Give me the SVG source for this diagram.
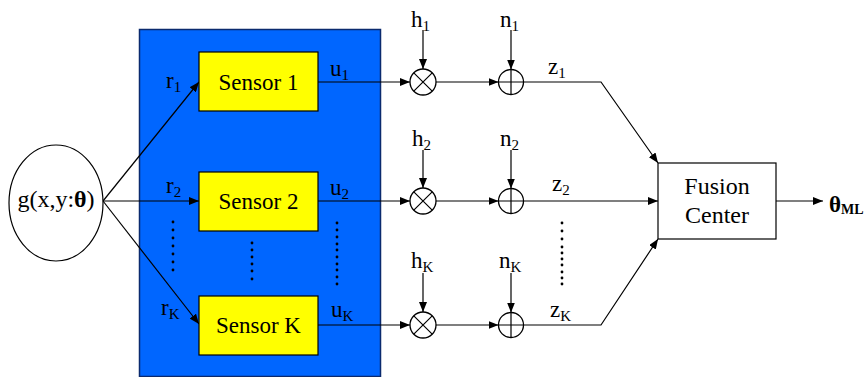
<svg xmlns="http://www.w3.org/2000/svg" width="867" height="377" viewBox="0 0 867 377" font-family="'Liberation Serif', 'Times New Roman', 'DejaVu Serif', serif">
<defs>
<marker id="ah" viewBox="0 0 10 8" refX="10" refY="4" markerWidth="10" markerHeight="8" markerUnits="userSpaceOnUse" orient="auto">
<path d="M0,0 L10,4 L0,8 Z" fill="#000"/>
</marker>
</defs>
<style>
text{font-family:'Liberation Serif','Times New Roman','DejaVu Serif',serif;fill:#000}
.lbl{font-size:23px}
.big{font-size:24px}
.sub{font-size:15px}
.ln{stroke:#000;stroke-width:1.2;fill:none}
.ar{stroke:#000;stroke-width:1.2;fill:none;marker-end:url(#ah)}
.sensor{fill:#ffff00;stroke:#000;stroke-width:1.2}
.op{fill:#fff;stroke:#000;stroke-width:1.3}
.dot{fill:#000}
</style>
<rect x="0" y="0" width="867" height="377" fill="#fff"/>
<g id="panel">
<rect x="139.5" y="29.5" width="241" height="347" fill="#0066ff" stroke="#0a2a6e" stroke-width="1.5"/>
</g>
<g id="connectors">
<line class="ar" x1="103" y1="201" x2="199" y2="82"/>
<line class="ar" x1="103" y1="201" x2="199" y2="201"/>
<line class="ar" x1="103" y1="201" x2="199" y2="324"/>
<line class="ar" x1="318" y1="82" x2="410" y2="82"/>
<line class="ar" x1="318" y1="201" x2="410" y2="201"/>
<line class="ar" x1="318" y1="325" x2="410" y2="325"/>
<line class="ar" x1="436" y1="82" x2="498.5" y2="82"/>
<line class="ar" x1="436" y1="201" x2="498.5" y2="201"/>
<line class="ar" x1="436" y1="325" x2="498.5" y2="325"/>
<line class="ar" x1="423" y1="30" x2="423" y2="69"/>
<line class="ar" x1="423" y1="150" x2="423" y2="188"/>
<line class="ar" x1="423" y1="273" x2="423" y2="312"/>
<line class="ar" x1="511" y1="30" x2="511" y2="69.5"/>
<line class="ar" x1="511" y1="150" x2="511" y2="188.5"/>
<line class="ar" x1="511" y1="273" x2="511" y2="312.5"/>
<polyline class="ar" points="523.5,82 601,82 658,163"/>
<line class="ar" x1="523.5" y1="201" x2="658" y2="201"/>
<polyline class="ar" points="523.5,325 601,325 658,239"/>
<line class="ar" x1="776" y1="201" x2="823" y2="201"/>
</g>
<g id="source">
<ellipse cx="56" cy="203" rx="47" ry="58" fill="#fff" stroke="#000" stroke-width="1.2"/>
<text class="big" x="56" y="207" text-anchor="middle">g(x,y:<tspan font-weight="bold">θ</tspan>)</text>
</g>
<g id="sensor1">
<rect class="sensor" x="199" y="52" width="119" height="59"/>
<text class="lbl" x="258.5" y="90" text-anchor="middle">Sensor 1</text>
</g>
<g id="sensor2">
<rect class="sensor" x="199" y="172" width="119" height="59"/>
<text class="lbl" x="258.5" y="209" text-anchor="middle">Sensor 2</text>
</g>
<g id="sensorK">
<rect class="sensor" x="199" y="296" width="119" height="59"/>
<text class="lbl" x="258.5" y="333" text-anchor="middle">Sensor K</text>
</g>
<g id="mult1"><circle class="op" cx="423" cy="82" r="13"/><path class="ln" d="M413.8,72.8 L432.2,91.2 M432.2,72.8 L413.8,91.2"/></g>
<g id="mult2"><circle class="op" cx="423" cy="201" r="13"/><path class="ln" d="M413.8,191.8 L432.2,210.2 M432.2,191.8 L413.8,210.2"/></g>
<g id="multK"><circle class="op" cx="423" cy="325" r="13"/><path class="ln" d="M413.8,315.8 L432.2,334.2 M432.2,315.8 L413.8,334.2"/></g>
<g id="add1"><circle class="op" cx="511" cy="82" r="12.5"/><path class="ln" d="M498.5,82 H523.5 M511,69.5 V94.5"/></g>
<g id="add2"><circle class="op" cx="511" cy="201" r="12.5"/><path class="ln" d="M498.5,201 H523.5 M511,188.5 V213.5"/></g>
<g id="addK"><circle class="op" cx="511" cy="325" r="12.5"/><path class="ln" d="M498.5,325 H523.5 M511,312.5 V337.5"/></g>
<g id="fusion">
<rect x="658" y="163" width="118" height="76" fill="#fff" stroke="#000" stroke-width="1.2"/>
<text class="big" x="717" y="194" text-anchor="middle">Fusion</text>
<text class="big" x="717" y="223" text-anchor="middle">Center</text>
</g>
<g id="labels">
<text class="lbl" x="166" y="88">r<tspan class="sub" dy="4">1</tspan></text>
<text class="lbl" x="166" y="193">r<tspan class="sub" dy="4">2</tspan></text>
<text class="lbl" x="161" y="315">r<tspan class="sub" dy="4">K</tspan></text>
<text class="lbl" x="330" y="76">u<tspan class="sub" dy="4">1</tspan></text>
<text class="lbl" x="330" y="195">u<tspan class="sub" dy="4">2</tspan></text>
<text class="lbl" x="331" y="317">u<tspan class="sub" dy="4">K</tspan></text>
<text class="lbl" x="411" y="27">h<tspan class="sub" dy="4">1</tspan></text>
<text class="lbl" x="412" y="146">h<tspan class="sub" dy="4">2</tspan></text>
<text class="lbl" x="411" y="268">h<tspan class="sub" dy="4">K</tspan></text>
<text class="lbl" x="500" y="27">n<tspan class="sub" dy="4">1</tspan></text>
<text class="lbl" x="500" y="146">n<tspan class="sub" dy="4">2</tspan></text>
<text class="lbl" x="499" y="268">n<tspan class="sub" dy="4">K</tspan></text>
<text class="lbl" x="548" y="74">z<tspan class="sub" dy="4">1</tspan></text>
<text class="lbl" x="552" y="191">z<tspan class="sub" dy="4">2</tspan></text>
<text class="lbl" x="550" y="317">z<tspan class="sub" dy="4">K</tspan></text>
<text x="829" y="212" font-size="23" font-weight="bold">θ<tspan font-size="14" dy="2">ML</tspan></text>
</g>
<g id="dots">
<g class="dot">
<circle cx="173" cy="222" r="1.4"/><circle cx="173" cy="230" r="1.4"/><circle cx="173" cy="238" r="1.4"/><circle cx="173" cy="246" r="1.4"/><circle cx="173" cy="254" r="1.4"/><circle cx="173" cy="262" r="1.4"/><circle cx="173" cy="270" r="1.4"/>
<circle cx="252" cy="243" r="1.4"/><circle cx="252" cy="250" r="1.4"/><circle cx="252" cy="257" r="1.4"/><circle cx="252" cy="264" r="1.4"/><circle cx="252" cy="271" r="1.4"/><circle cx="252" cy="279" r="1.4"/>
<circle cx="337" cy="223" r="1.4"/><circle cx="337" cy="230" r="1.4"/><circle cx="337" cy="237" r="1.4"/><circle cx="337" cy="244" r="1.4"/><circle cx="337" cy="250" r="1.4"/><circle cx="337" cy="257" r="1.4"/><circle cx="337" cy="264" r="1.4"/><circle cx="337" cy="270" r="1.4"/><circle cx="337" cy="277" r="1.4"/><circle cx="337" cy="284" r="1.4"/>
<circle cx="562" cy="223" r="1.4"/><circle cx="562" cy="231" r="1.4"/><circle cx="562" cy="239" r="1.4"/><circle cx="562" cy="247" r="1.4"/><circle cx="562" cy="253" r="1.4"/><circle cx="562" cy="259" r="1.4"/><circle cx="562" cy="265" r="1.4"/><circle cx="562" cy="272" r="1.4"/><circle cx="562" cy="278" r="1.4"/><circle cx="562" cy="284" r="1.4"/>
</g>
</g>
</svg>
